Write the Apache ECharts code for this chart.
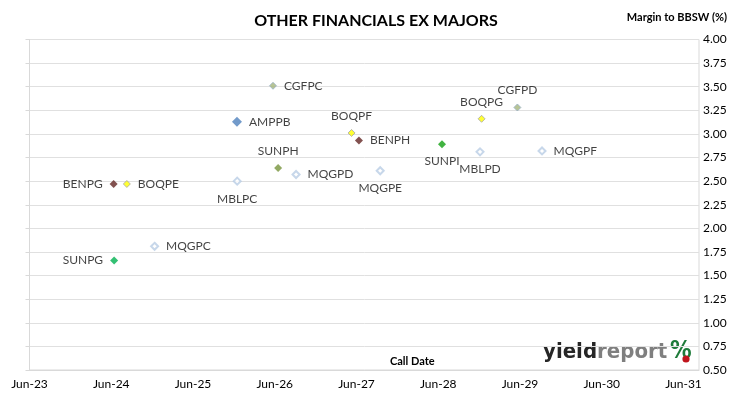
<!DOCTYPE html>
<html>
<head>
<meta charset="utf-8">
<script src="https://cdn.jsdelivr.net/npm/echarts@6/dist/echarts.min.js"></script>
<style>
  html, body { margin: 0; padding: 0; background: #fff; }
  #chart-container { width: 730px; height: 399px; }
</style>
</head>
<body>
<div id="chart-container"></div>
<script>
// securities, their call dates and margins
const codes = ['CGFPC', 'AMPPB', 'BOQPF', 'BENPH', 'SUNPH', 'MQGPD', 'MBLPC', 'BENPG', 'BOQPE',
  'MQGPC', 'SUNPG', 'SUNPI', 'BOQPG', 'CGFPD', 'MBLPD', 'MQGPF', 'MQGPE'];
const callDates = ['2026-05-24', '2025-12-14', '2027-05-10', '2027-06-12', '2026-06-16', '2026-09-04',
  '2025-12-15', '2024-06-11', '2024-08-09', '2024-12-11', '2024-06-13', '2028-06-17', '2028-12-11',
  '2029-05-20', '2028-12-04', '2029-09-07', '2027-09-15'];
const margins = [3.51, 3.13, 3.01, 2.93, 2.64, 2.57, 2.50, 2.47, 2.47, 1.81, 1.66, 2.89, 3.16, 3.28, 2.81, 2.82, 2.61];
const yearLabels = ['Jun-23', 'Jun-24', 'Jun-25', 'Jun-26', 'Jun-27', 'Jun-28', 'Jun-29', 'Jun-30', 'Jun-31'];

// where each label sits relative to its marker
const labelSide = {
  CGFPC: 'right', AMPPB: 'right', BOQPF: 'top', BENPH: 'right', SUNPH: 'top', MQGPD: 'right',
  MBLPC: 'bottom', BENPG: 'left', BOQPE: 'right', MQGPC: 'right', SUNPG: 'left', SUNPI: 'bottom',
  BOQPG: 'top', CGFPD: 'top', MBLPD: 'bottom', MQGPF: 'right', MQGPE: 'bottom'
};

const markerStyle = (code) => {
  if (code.startsWith('CGF')) return { size: 7, style: { color: '#A5B57A', borderColor: '#98B0C8', borderWidth: 1 } };
  if (code.startsWith('AMP')) return { size: 10, style: { color: '#4F81BD' } };
  if (code.startsWith('BOQ')) return { size: 7, style: { color: '#FFFF00', borderColor: '#A6A6A6', borderWidth: 1 } };
  if (code.startsWith('BEN')) return { size: 8, style: { color: '#632523' } };
  if (code === 'SUNPH') return { size: 8, style: { color: '#77933C' } };
  if (code === 'SUNPI') return { size: 8, style: { color: '#11A011' } };
  if (code === 'SUNPG') return { size: 8, style: { color: '#00B050' } };
  return { size: 7, style: { color: '#ffffff', borderColor: '#B9CDE5', borderWidth: 2 } };
};

const base = Date.UTC(2023, 5, 1);
const toYears = (s) => {
  const [y, m, d] = s.split('-').map(Number);
  return (Date.UTC(y, m - 1, d) - base) / (365.25 * 864e5);
};

const points = codes.map((code, i) => {
  const m = markerStyle(code);
  return {
    name: code,
    value: [toYears(callDates[i]), margins[i]],
    symbolSize: m.size,
    itemStyle: m.style,
    label: { position: labelSide[code] }
  };
});

const start = () => {
  const chartDom = document.getElementById('chart-container');
  const myChart = echarts.init(chartDom, null, { renderer: 'canvas' });
  const font = 'Lato';
  const logoFont = 'DejaVu Sans Condensed';
  const option = {
    animation: false,
    textStyle: { fontFamily: font },
    title: {
      text: 'OTHER FINANCIALS EX MAJORS',
      left: 371, top: 8, textAlign: 'center',
      textStyle: { fontSize: 16, fontWeight: 'bold', color: '#000', fontFamily: font }
    },
    grid: {
      left: 29.5, right: 31, top: 39.5, bottom: 29,
      show: true, borderColor: '#d9d9d9', borderWidth: 1
    },
    xAxis: {
      type: 'value', min: 0, max: 8.19, interval: 1,
      axisLine: { show: true, lineStyle: { color: '#d9d9d9' } },
      axisTick: { show: false },
      splitLine: { show: false },
      axisLabel: {
        margin: 8, fontSize: 12, color: '#000', showMaxLabel: false,
        formatter: (v) => {
          const k = Math.round(v);
          return Math.abs(v - k) < 1e-6 ? yearLabels[k] : '';
        }
      }
    },
    yAxis: {
      type: 'value', position: 'right', min: 0.5, max: 4, interval: 0.25,
      axisLine: { show: true, lineStyle: { color: '#d9d9d9' } },
      axisTick: { show: true, inside: true, length: 4, lineStyle: { color: '#d9d9d9' } },
      splitLine: { show: true, lineStyle: { color: '#e0e0e0' } },
      axisLabel: { margin: 4, fontSize: 12, color: '#000', formatter: (v) => v.toFixed(2) }
    },
    graphic: [
      {
        type: 'text', right: 3, top: 12,
        style: { text: 'Margin to BBSW (%)', fontSize: 11, fontWeight: 'bold', fill: '#000', fontFamily: font }
      },
      {
        type: 'text', left: 390, top: 356,
        style: { text: 'Call Date', fontSize: 11, fontWeight: 'bold', fill: '#000', fontFamily: font, align: 'center' }
      },
      {
        type: 'text', left: 543, top: 341,
        style: {
          text: '{a|yield}{b|report}',
          rich: {
            a: { fontSize: 22, fontWeight: 'bold', fill: '#262626', fontFamily: logoFont },
            b: { fontSize: 22, fontWeight: 'bold', fill: '#7F7F7F', fontFamily: logoFont }
          }
        }
      },
      {
        type: 'text', left: 670, top: 340,
        style: { text: '%', fontSize: 24, fontWeight: 'bold', fill: '#1E7B3A', fontFamily: logoFont }
      },
      {
        type: 'circle', shape: { cx: 686, cy: 359, r: 3.6 },
        style: { fill: '#C0141C' }
      }
    ],
    series: [
      {
        type: 'scatter',
        symbol: 'diamond',
        data: points,
        label: {
          show: true, formatter: '{b}', fontSize: 12, color: '#111', distance: 7, fontFamily: font
        }
      }
    ]
  };
  myChart.setOption(option);
};

start();
</script>
</body>
</html>
